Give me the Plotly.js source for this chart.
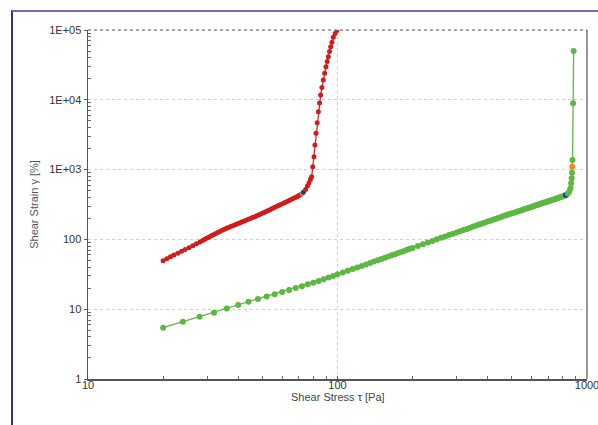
<!DOCTYPE html>
<html><head><meta charset="utf-8">
<script src="https://cdn.plot.ly/plotly-3.0.1.min.js"></script>
<style>
html,body{margin:0;padding:0;background:#fff;width:598px;height:425px;overflow:hidden}
#frame{position:absolute;left:11px;top:10px;width:600px;height:420px;border-left:2px solid #2f2fae;border-top:2px solid #6a6ac8}
#chart{position:absolute;left:0;top:0;width:598px;height:425px}
</style></head><body><div id="frame"></div><div id="chart"></div>
<script>
// ---- data ----
const redTau = [20, 20.7, 21.4, 22.1, 22.9, 23.7, 24.5, 25.4, 26.3, 27.2, 28.1, 28.8, 29.4, 30.0, 30.6, 31.2, 31.8, 32.4, 33.1, 33.8, 34.5, 35.2, 35.9, 36.6, 37.3, 38.1, 38.9, 39.7, 40.5, 41.3, 42.1, 43.0, 43.9, 44.8, 45.7, 46.6, 47.5, 48.5, 49.5, 50.5, 51.5, 52.5, 53.6, 54.7, 55.8, 56.9, 58.0, 59.2, 60.4, 61.6, 62.8, 64.0, 65.2, 66.4, 67.6, 68.8, 70.0, 71.2, 72.2, 73.0, 74.5, 75.8, 76.9, 77.9, 78.8, 79.6, 80.5, 81.2, 82.0, 82.9, 83.8, 84.7, 85.6, 86.6, 87.7, 88.8, 89.9, 90.9, 91.9, 92.9, 93.9, 95.0, 96.2, 97.8, 99.5];
const redGamma = [49.5, 52.8, 56.2, 59.6, 63.5, 67.5, 71.5, 76.2, 81.2, 86.5, 92.0, 96.5, 100.5, 104.5, 108.5, 112.5, 116.5, 120.9, 125.5, 130.2, 135.0, 139.8, 144.4, 148.5, 152.7, 157.5, 162.3, 167.2, 172.2, 177.2, 182.3, 188.0, 193.8, 199.6, 205.5, 211.5, 217.5, 225.5, 233.5, 241.6, 249.8, 258.0, 267.0, 276.2, 285.6, 295.2, 305.0, 316.0, 327.0, 338.2, 349.5, 361.0, 372.5, 384.5, 397.0, 410.0, 424.0, 439.0, 455.0, 472.0, 520, 580, 650, 720, 791, 1100, 1531, 2250, 3311, 4700, 6760, 9000, 11700, 15000, 19200, 24000, 29800, 35500, 41400, 49000, 57600, 67000, 78500, 89000, 98000];
const greenTau = [20, 24, 28, 32, 36, 40, 44, 48, 52, 56, 60, 64, 68, 72, 76, 80, 84, 88, 92, 96,
  100, 105, 110, 115, 120, 125, 130, 135, 140, 145, 150, 155, 160, 165, 170, 175, 180, 185, 190, 195,
  200, 210, 220, 230, 240, 250, 260, 270, 280, 290, 300, 310, 320, 330, 340, 350, 360, 370, 380, 390,
  400, 410, 420, 430, 440, 450, 460, 470, 480, 490, 500, 510, 520, 530, 540, 550, 560, 570, 580, 590,
  600, 610, 620, 630, 640, 650, 660, 670, 680, 690, 700, 710, 720, 730, 740, 750, 760, 770, 780, 790,
  800, 812, 824, 838, 850, 858, 864, 868, 871, 873, 875, 880, 884];
const greenGamma = [5.43, 6.62, 7.81, 8.9, 10.2, 11.5, 12.8, 14.0, 15.2, 16.4, 17.6, 18.9, 20.1, 21.4, 22.7, 24.0, 25.4, 26.9, 28.4, 30.0,
  31.6, 33.6, 35.6, 37.6, 39.6, 41.7, 43.8, 46.0, 48.2, 50.4, 52.6, 54.8, 57.0, 59.2, 61.5, 63.7, 66.0, 68.4, 70.8, 73.2,
  75.6, 80.4, 85.2, 90.2, 95.2, 100.2, 105.3, 110.4, 115.6, 120.8, 125.5, 130.8, 136, 141.5, 147, 152.5, 158, 163.5, 169, 174.5,
  180, 185.5, 191, 196.5, 202, 208, 214, 219.5, 225, 230.5, 236, 241.5, 247, 252.5, 258, 264, 270, 275.5, 281, 287,
  293, 299, 305, 311, 317, 323, 329, 335, 341, 347, 353, 359, 365, 371, 377, 383, 389, 395.5, 402, 408,
  414, 422, 433, 455, 485, 540, 636, 750, 903, 1100, 1373, 8900, 50000];
// highlighted points (by stress value)
const redOrangeAt = 72.2, redBlueAt = 73.0;
const greenBlueAt = 824, greenOrangeAt = 873;
const xTickVals = [10, 100, 1000];
const xTickText = ['10', '100', '1000'];
const yTickVals = [1, 10, 100, 1000, 10000, 100000];
const yTickText = ['1', '10', '100', '1E+03', '1E+04', '1E+05'];
const xTitle = 'Shear Stress \u03c4 [Pa]';
const yTitle = 'Shear Strain \u03b3 [%]';

// ---- styling ----
const RED = '#d01c1c', GREEN = '#5cb842', BLUE = '#1f3c9e', ORANGE = '#ee8a26';
const redColors = redTau.map(t => t === redBlueAt ? BLUE : (t === redOrangeAt ? ORANGE : RED));
const greenColors = greenTau.map(t => t === greenBlueAt ? BLUE : (t === greenOrangeAt ? ORANGE : GREEN));

function minorVals(majors) {
  const out = [];
  majors.slice(0, -1).forEach(d => { for (let k = 2; k <= 9; k++) out.push(d * k); });
  return out;
}
const X_RANGE = [1, 3], Y_RANGE = [0, 5];

const traces = [
  {x: greenTau, y: greenGamma, type: 'scatter', mode: 'lines+markers',
   line: {color: GREEN, width: 1.3}, marker: {color: greenColors, size: 6}},
  {x: redTau, y: redGamma, type: 'scatter', mode: 'lines+markers',
   line: {color: RED, width: 1.2}, marker: {color: redColors, size: 5}},
  {x: [], y: [], xaxis: 'x2', yaxis: 'y2', type: 'scatter', mode: 'markers', hoverinfo: 'skip'}
];

const axisCommon = {
  type: 'log', showline: true, linecolor: '#555', linewidth: 1.5,
  ticklen: 3, tickcolor: '#555', tickwidth: 1,
  showgrid: true, gridcolor: '#cfcfcf', griddash: 'dot', gridwidth: 1,
  zeroline: false, tickmode: 'array', ticklabeloverflow: 'allow',
  tickfont: {size: 11, color: '#333'}
};
const minorCommon = {
  type: 'log', showline: false, showgrid: false, zeroline: false, showticklabels: false,
  tickmode: 'array', ticks: 'inside', ticklen: 3, tickcolor: '#666', tickwidth: 1
};

const layout = {
  width: 598, height: 425,
  margin: {l: 88, r: 11, t: 30, b: 46},
  paper_bgcolor: 'rgba(0,0,0,0)', plot_bgcolor: 'rgba(0,0,0,0)',
  showlegend: false,
  font: {family: '"Liberation Sans", Arial, sans-serif', size: 11, color: '#333'},
  xaxis: Object.assign({}, axisCommon, {range: X_RANGE, tickvals: xTickVals, ticktext: xTickText,
     ticks: 'inside', ticklabelstandoff: -5}),
  yaxis: Object.assign({}, axisCommon, {range: Y_RANGE, tickvals: yTickVals, ticktext: yTickText,
     ticks: 'outside',
     title: {text: yTitle, font: {size: 11, color: '#555'}, standoff: 8}}),
  xaxis2: Object.assign({}, minorCommon, {overlaying: 'x', side: 'bottom', anchor: 'y2', range: X_RANGE, tickvals: minorVals(xTickVals)}),
  yaxis2: Object.assign({}, minorCommon, {overlaying: 'y', side: 'left', anchor: 'x2', range: Y_RANGE, tickvals: minorVals(yTickVals)}),
  annotations: [
    {text: xTitle, xref: 'paper', yref: 'paper', x: 0.5, y: -0.052, xanchor: 'center', yanchor: 'middle',
     showarrow: false, font: {size: 11, color: '#444'}}
  ],
  shapes: [
    {type: 'line', xref: 'paper', yref: 'paper', x0: 0, x1: 1, y0: 1, y1: 1,
     line: {color: '#8a8a8a', width: 1.5, dash: 'dot'}},
    {type: 'line', xref: 'paper', yref: 'paper', x0: 1, x1: 1, y0: 0, y1: 1,
     line: {color: '#777', width: 1.5}}
  ]
};

Plotly.newPlot('chart', traces, layout, {staticPlot: true, displayModeBar: false});
</script>
</body></html>
